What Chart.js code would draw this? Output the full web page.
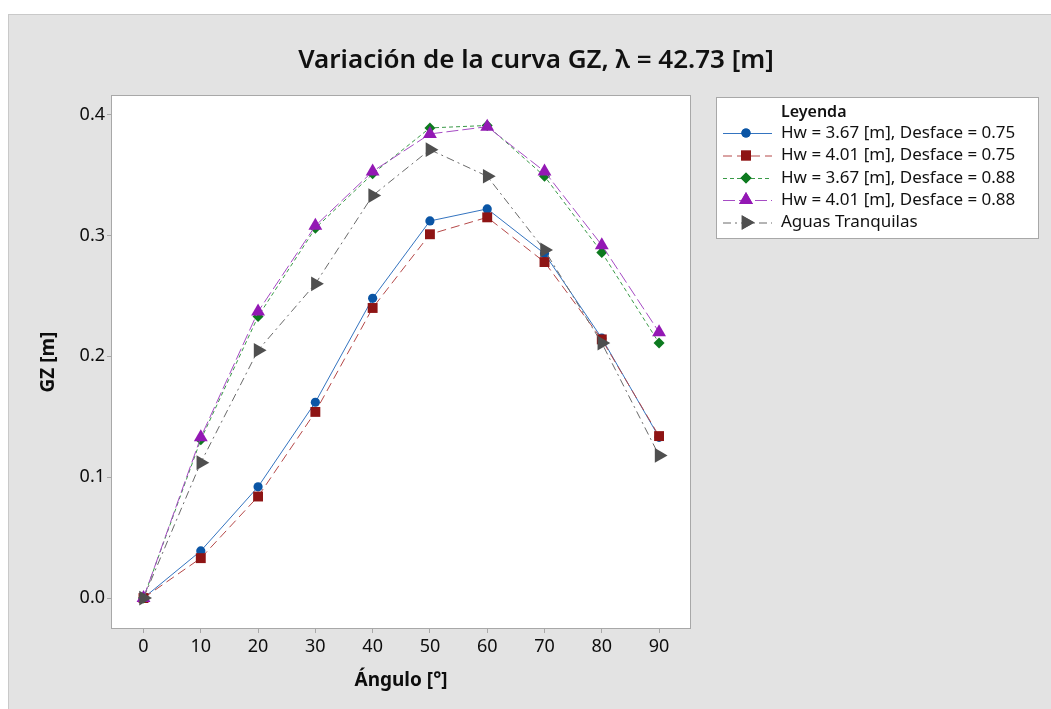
<!DOCTYPE html>
<html lang="es">
<head>
<meta charset="utf-8">
<title>Variación de la curva GZ</title>
<script src="https://cdn.jsdelivr.net/npm/chart.js@4.4.0/dist/chart.umd.min.js"></script>
<style>
    html, body { margin: 0; padding: 0; background: #ffffff; }
    #marco {
        position: absolute;
        left: 8px;
        top: 14px;
        width: 1043px;
        height: 695px;
        background: #e3e3e3;
        border-top: 1px solid #c9c9c9;
        border-left: 1px solid #c9c9c9;
        box-sizing: border-box;
    }
    #graficoGZ { display: block; }
</style>
</head>
<body>
<div id="marco">
    <canvas id="graficoGZ" width="1042" height="694"></canvas>
</div>
<script>
// --- DADOS: ángulos de escora y GZ de cada caso ---
const angulos = [0, 10, 20, 30, 40, 50, 60, 70, 80, 90];

const gzHw367D075 = [0, 0.039, 0.092, 0.162, 0.248, 0.312, 0.322, 0.285, 0.215, 0.133];
const gzHw401D075 = [0, 0.033, 0.084, 0.154, 0.240, 0.301, 0.315, 0.278, 0.214, 0.134];
const gzHw367D088 = [0, 0.131, 0.233, 0.306, 0.351, 0.389, 0.391, 0.349, 0.286, 0.211];
const gzHw401D088 = [0, 0.133, 0.237, 0.308, 0.353, 0.384, 0.390, 0.353, 0.292, 0.220];
const gzAguasTranquilas = [0, 0.112, 0.205, 0.260, 0.333, 0.371, 0.349, 0.288, 0.211, 0.118];

const etiquetas = [
    'Hw = 3.67 [m], Desface = 0.75',
    'Hw = 4.01 [m], Desface = 0.75',
    'Hw = 3.67 [m], Desface = 0.88',
    'Hw = 4.01 [m], Desface = 0.88',
    'Aguas Tranquilas'
];

const ticksGZ = [0.0, 0.1, 0.2, 0.3, 0.4];

const FUENTE = '"Noto Sans", "Open Sans", sans-serif';

function puntos(valores) {
    return angulos.map((a, i) => ({ x: a, y: valores[i] }));
}

// estilos de cada serie (linea + marcador)
const series = [
    { label: etiquetas[0], data: puntos(gzHw367D075), borderColor: '#3474c0', backgroundColor: '#0a55a5',
      borderDash: [], pointStyle: 'circle', pointRadius: 4.6, pointRotation: 0, order: 4 },
    { label: etiquetas[1], data: puntos(gzHw401D075), borderColor: '#b54848', backgroundColor: '#8e1414',
      borderDash: [9, 5], pointStyle: 'rect', pointRadius: 7, pointRotation: 0, order: 3 },
    { label: etiquetas[2], data: puntos(gzHw367D088), borderColor: '#3a9a48', backgroundColor: '#0d7a1f',
      borderDash: [4, 3], pointStyle: 'rectRot', pointRadius: 5.5, pointRotation: 0, order: 2 },
    { label: etiquetas[3], data: puntos(gzHw401D088), borderColor: '#a64cc4', backgroundColor: '#9318b4',
      borderDash: [12, 4], pointStyle: 'triangle', pointRadius: 8, pointRotation: 0, order: 1 },
    { label: etiquetas[4], data: puntos(gzAguasTranquilas), borderColor: '#6a6a6a', backgroundColor: '#4f4f4f',
      borderDash: [8, 4, 2, 4], pointStyle: 'triangle', pointRadius: 8.5, pointRotation: 90, order: 0 }
];

const datasets = series.map(s => ({
    label: s.label,
    data: s.data,
    borderColor: s.borderColor,
    backgroundColor: s.backgroundColor,
    borderWidth: 1,
    borderDash: s.borderDash,
    pointStyle: s.pointStyle,
    pointRadius: s.pointRadius,
    pointRotation: s.pointRotation,
    pointBorderWidth: 0,
    pointBackgroundColor: s.backgroundColor,
    pointBorderColor: s.backgroundColor,
    tension: 0,
    order: s.order
}));

// fondo blanco + borde del area de datos, titulo y leyenda
const decoracion = {
    id: 'decoracion',
    beforeDraw(chart) {
        const { ctx, chartArea: a } = chart;
        ctx.save();
        ctx.fillStyle = '#ffffff';
        ctx.fillRect(a.left, a.top, a.right - a.left, a.bottom - a.top);
        ctx.restore();
    },
    afterDatasetsDraw(chart) {
        const { ctx, chartArea: a } = chart;
        ctx.save();
        ctx.strokeStyle = '#a8a8a8';
        ctx.lineWidth = 1;
        ctx.strokeRect(Math.round(a.left) - 0.5, Math.round(a.top) - 0.5,
            Math.round(a.right - a.left) + 1, Math.round(a.bottom - a.top) + 1);
        ctx.restore();
    },
    afterDraw(chart) {
        const ctx = chart.ctx;
        ctx.save();

        // titulo
        ctx.fillStyle = '#111111';
        ctx.font = '600 26px ' + FUENTE;
        ctx.textAlign = 'center';
        ctx.textBaseline = 'middle';
        ctx.fillText('Variación de la curva GZ, λ = 42.73 [m]', 527, 46);

        // caja de leyenda
        const lx = 707, ly = 82, lw = 322, lh = 141;
        ctx.fillStyle = '#ffffff';
        ctx.fillRect(lx, ly, lw, lh);
        ctx.strokeStyle = '#a8a8a8';
        ctx.lineWidth = 1;
        ctx.strokeRect(lx + 0.5, ly + 0.5, lw, lh);

        ctx.fillStyle = '#111111';
        ctx.textAlign = 'left';
        ctx.font = '600 16px ' + FUENTE;
        ctx.fillText('Leyenda', 772, 97);

        ctx.font = '17px ' + FUENTE;
        const filas = [118, 140.5, 163, 185, 207.5];
        chart.data.datasets.forEach((ds, i) => {
            const y = filas[i];
            ctx.save();
            ctx.strokeStyle = ds.borderColor;
            ctx.lineWidth = 1;
            ctx.setLineDash(ds.borderDash);
            ctx.beginPath();
            ctx.moveTo(714, y + 0.5);
            ctx.lineTo(763, y + 0.5);
            ctx.stroke();
            ctx.restore();

            ctx.fillStyle = ds.backgroundColor;
            Chart.helpers.drawPoint(ctx, {
                pointStyle: ds.pointStyle,
                rotation: ds.pointRotation,
                radius: ds.pointRadius,
                borderWidth: 0
            }, 737, y);
            ctx.fill();

            ctx.fillStyle = '#111111';
            ctx.fillText(ds.label, 772, y);
        });
        ctx.restore();
    }
};

new Chart(document.getElementById('graficoGZ'), {
    type: 'line',
    data: { datasets },
    plugins: [decoracion],
    options: {
        responsive: false,
        animation: false,
        layout: { padding: { top: 81, right: 361, left: 0, bottom: 0 } },
        plugins: {
            legend: { display: false },
            title: { display: false },
            tooltip: { enabled: false }
        },
        scales: {
            x: {
                type: 'linear',
                min: -5.5,
                max: 95.4,
                afterFit(scale) { scale.height = 81; },
                afterBuildTicks(scale) { scale.ticks = angulos.map(v => ({ value: v })); },
                grid: { drawOnChartArea: false, tickLength: 5, color: '#a8a8a8' },
                border: { display: false },
                ticks: {
                    color: '#0d0d0d',
                    padding: 3,
                    font: { family: FUENTE, size: 18 },
                    callback: v => String(v)
                },
                title: {
                    display: true,
                    text: 'Ángulo [°]',
                    color: '#0d0d0d',
                    font: { family: FUENTE, size: 19, weight: 'bold' },
                    padding: { top: 0, bottom: 17 }
                }
            },
            y: {
                type: 'linear',
                min: -0.0248,
                max: 0.4154,
                afterFit(scale) { scale.width = 103; },
                afterBuildTicks(scale) { scale.ticks = ticksGZ.map(v => ({ value: v })); },
                grid: { drawOnChartArea: false, tickLength: 5, color: '#a8a8a8' },
                border: { display: false },
                ticks: {
                    color: '#0d0d0d',
                    padding: 2,
                    font: { family: FUENTE, size: 18 },
                    callback: v => v.toFixed(1)
                },
                title: {
                    display: true,
                    text: 'GZ [m]',
                    color: '#0d0d0d',
                    font: { family: FUENTE, size: 19, weight: 'bold' },
                    padding: { top: 28, bottom: 0 }
                }
            }
        }
    }
});
</script>
</body>
</html>
